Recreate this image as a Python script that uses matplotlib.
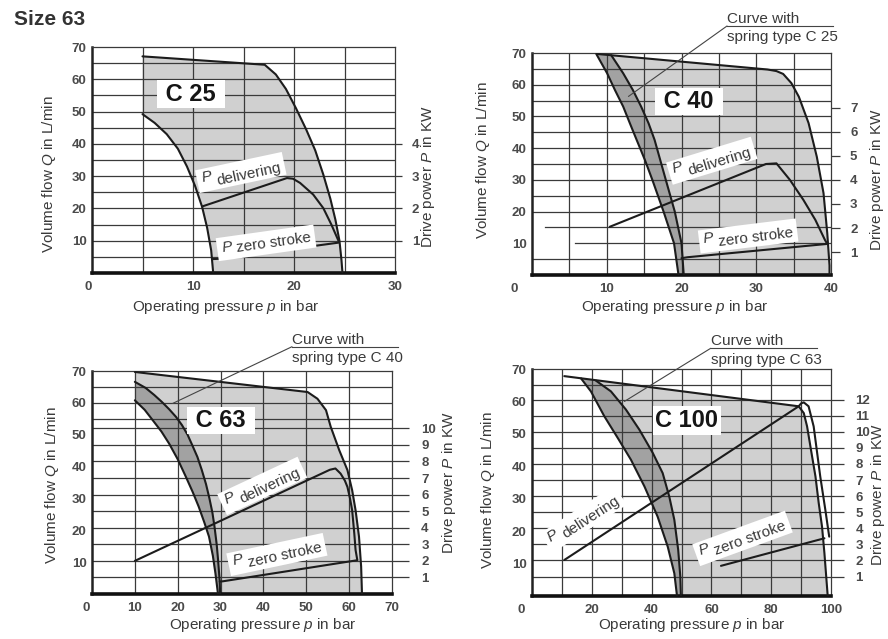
import numpy as np
import matplotlib
matplotlib.use('Agg')
import matplotlib.pyplot as plt
import matplotlib.transforms as mtransforms
from matplotlib.lines import Line2D

plt.rcParams['font.family'] = ['Liberation Sans', 'DejaVu Sans']
plt.rcParams['mathtext.fontset'] = 'custom'
plt.rcParams['mathtext.rm'] = 'Liberation Sans'
plt.rcParams['mathtext.it'] = 'Liberation Sans:italic'

W, H = 888, 639
LIGHT = '#d0d0d0'
DARK = '#a2a2a2'
INK = '#1c1c1c'
GRID = '#3a3a3a'
NUM = '#4a4a4a'
LAB = '#3a3a3a'

# =============================================================================
# Curves: pressure p [bar], flow Q [L/min]
# =============================================================================

# --- C 25 ---
c25_env_p = [5.0, 17.1, 18.2, 19.2, 20.2, 21.2, 22.1, 22.9, 23.6, 24.1, 24.5, 24.7, 24.8]
c25_env_q = [67.1, 64.5, 61.5, 57.0, 51.0, 44.5, 38.0, 30.5, 23.0, 16.5, 10.0, 4.0, 0.0]
c25_inner_p = [5.0, 6.2, 7.4, 8.5, 9.4, 10.2, 10.9, 11.4, 11.8, 12.0]
c25_inner_q = [49.2, 46.5, 43.0, 38.5, 33.0, 27.0, 20.5, 14.0, 7.0, 0.0]
c25_deliv_p = [10.9, 19.3, 19.9, 20.6, 21.9, 22.9, 23.7, 24.4]
c25_deliv_q = [20.6, 29.4, 29.2, 27.9, 24.3, 20.1, 15.0, 10.0]
c25_zero_p = [11.9, 12.6, 24.4]
c25_zero_q = [4.3, 4.4, 9.4]
c25_kw = [1, 2, 3, 4]

# --- C 40 ---
c40_env_p = [8.7, 31.5, 32.7, 33.6, 34.7, 35.7, 37.0, 38.1, 39.0, 39.5, 39.8, 39.8]
c40_env_q = [69.7, 64.8, 64.3, 63.4, 60.5, 56.2, 47.9, 37.3, 25.8, 13.2, 3.0, 0.0]
c40_a_p = [8.6, 10.05, 11.1, 12.2, 13.1, 14.0, 15.1, 16.1, 17.6, 19.0, 19.6]
c40_a_q = [69.7, 63.6, 58.3, 53.1, 47.8, 42.6, 36.3, 30.0, 20.0, 10.0, 0.0]
c40_b_p = [10.6, 12.2, 13.5, 14.6, 15.6, 16.4, 17.9, 19.1, 20.0, 20.3]
c40_b_q = [69.3, 63.6, 58.3, 53.1, 47.8, 42.6, 30.0, 20.0, 10.0, 0.0]
c40_deliv_p = [10.4, 31.3, 32.7, 34.5, 36.3, 37.9, 39.2, 39.5]
c40_deliv_q = [15.2, 35.0, 35.2, 30.0, 23.7, 17.4, 11.0, 9.8]
c40_zero_p = [20.0, 20.8, 39.5]
c40_zero_q = [5.3, 5.6, 9.8]
c40_kw = [1, 2, 3, 4, 5, 6, 7]

# --- C 63 ---
c63_env_p = [10.0, 50.3, 52.6, 54.6, 55.7, 57.7, 59.6, 60.7, 61.5, 62.3, 62.8, 63.0]
c63_env_q = [69.7, 63.4, 61.3, 57.7, 52.5, 45.1, 38.9, 32.6, 26.3, 18.0, 8.6, 0.0]
c63_a_p = [10.0, 12.3, 14.2, 16.2, 18.0, 20.0, 21.9, 23.5, 24.9, 26.2, 27.3, 28.2, 28.8, 29.4]
c63_a_q = [60.8, 57.8, 54.5, 51.0, 47.2, 42.3, 36.8, 32.0, 27.4, 22.5, 18.0, 12.0, 6.5, 0.0]
c63_b_p = [10.0, 12.5, 14.5, 16.3, 18.0, 19.6, 21.0, 22.3, 23.3, 24.6, 25.6, 26.6, 27.4,
           28.1, 28.6, 29.1, 29.4, 29.8, 29.9]
c63_b_q = [66.6, 64.7, 62.5, 60.3, 58.0, 55.6, 53.0, 50.0, 47.0, 43.0, 39.0, 34.5, 30.0,
           25.5, 21.0, 15.5, 11.0, 4.0, 0.0]
c63_deliv_p = [10.0, 55.5, 56.8, 58.0, 59.0, 59.6, 60.2, 60.7, 61.2, 61.5, 61.9]
c63_deliv_q = [10.4, 39.0, 39.4, 37.8, 35.6, 33.6, 30.0, 26.3, 19.0, 13.8, 10.7]
c63_zero_p = [29.8, 30.6, 61.9]
c63_zero_q = [3.9, 4.0, 10.6]
c63_kw = [1, 2, 3, 4, 5, 6, 7, 8, 9, 10]

# --- C 100 ---
c100_env_p = [10.8, 89.2, 90.9, 92.0, 93.3, 94.8, 95.9, 97.0, 97.8, 98.4, 98.9]
c100_env_q = [67.8, 58.5, 56.4, 52.3, 45.1, 36.9, 28.6, 21.4, 13.2, 6.0, 0.0]
c100_a_p = [16.4, 19.7, 24.2, 28.7, 33.1, 37.6, 42.0, 45.4, 47.6, 48.5]
c100_a_q = [67.1, 63.1, 55.4, 48.7, 42.0, 33.8, 24.5, 15.2, 7.0, 0.0]
c100_b_p = [21.4, 26.4, 31.4, 35.9, 40.4, 43.7, 45.9, 47.6, 48.9, 49.6, 49.8]
c100_b_q = [66.4, 63.1, 57.5, 51.3, 44.1, 37.9, 30.7, 23.5, 14.2, 6.0, 0.0]
c100_deliv_p = [10.8, 89.2, 90.0, 90.9, 92.5, 94.2, 96.4, 98.1, 99.4]
c100_deliv_q = [11.1, 58.5, 59.4, 59.7, 58.5, 52.3, 36.9, 26.6, 18.3]
c100_zero_p = [63.2, 97.8]
c100_zero_q = [9.3, 17.8]
c100_kw = [1, 2, 3, 4, 5, 6, 7, 8, 9, 10, 11, 12]

# =============================================================================
# Helpers
# =============================================================================

fig = plt.figure(figsize=(W / 100, H / 100), dpi=100)


def fx(x):
    return x / W


def fy(y):
    return 1 - y / H


def add_panel(l, t, r, b):
    return fig.add_axes([l / W, 1 - b / H, (r - l) / W, (b - t) / H])


def frame(ax, xmax, xstep, xticks, zero_dx, qlines, qstart=None):
    ax.set_xlim(0, xmax)
    ax.set_ylim(0, 70)
    qstart = qstart or {}
    for x in np.arange(xstep, xmax, xstep):
        ax.axvline(x, color=GRID, lw=0.9, zorder=2)
    for q in qlines:
        ax.axhline(q, xmin=qstart.get(q, 0) / xmax, color=GRID, lw=0.9, zorder=2)
    ax.set_xticks(xticks, labels=[str(v) for v in xticks], fontweight='bold')
    ax.set_yticks(range(10, 71, 10), labels=[str(v) for v in range(10, 71, 10)],
                  fontweight='bold')
    ax.tick_params(axis='both', length=0, labelsize=9.5, labelcolor=NUM)
    ax.tick_params(axis='x', pad=6)
    ax.tick_params(axis='y', pad=4)
    ax.annotate('0', xy=(0, 0), xycoords='axes fraction', xytext=(zero_dx, -6),
                textcoords='offset points', ha='center', va='top', fontsize=9.5,
                fontweight='bold', color=NUM)
    ax.spines['left'].set_linewidth(1.8)
    ax.spines['bottom'].set_linewidth(2.6)
    ax.spines['left'].set_color('#222222')
    ax.spines['bottom'].set_color('#111111')
    for s in ('top', 'right'):
        ax.spines[s].set_linewidth(0.9)
        ax.spines[s].set_color(GRID)


def kw_axis(ax, a, b, ticks, length, pad, gridlines):
    sec = ax.secondary_yaxis('right', functions=(lambda q: (q - b) / a, lambda p: a * p + b))
    sec.set_ticks(ticks, labels=[str(t) for t in ticks], fontweight='bold')
    sec.tick_params(axis='y', direction='out', length=length, width=0.9, color=GRID,
                    pad=pad, labelsize=9.5, labelcolor=NUM)
    sec.spines['right'].set_visible(False)
    if gridlines:
        for p in ticks:
            ax.axhline(a * p + b, color=GRID, lw=0.9, zorder=2)


def curve(ax, xs, ys):
    ax.plot(xs, ys, color=INK, lw=1.5, zorder=3, solid_joinstyle='round',
            solid_capstyle='round')


def region(ax, xs_a, ys_a, xs_b, ys_b, color):
    ax.fill(np.r_[xs_a, xs_b[::-1]], np.r_[ys_a, ys_b[::-1]], color=color, lw=0, zorder=1)


def size_label(ax, x, y, text, pad):
    ax.text(x, y, text, ha='center', va='center', fontsize=17, fontweight='bold',
            color='#151515', zorder=5,
            bbox=dict(boxstyle=f'square,pad={pad}', fc='white', ec='none'))


def p_label(ax, x, y, sub, rot, drop, size=11):
    r = np.radians(rot)
    kw = dict(fontsize=size, rotation=rot, rotation_mode='anchor', ha='left', va='baseline')
    shift = mtransforms.offset_copy(ax.transData, fig=fig, x=0.5 * drop * np.sin(r),
                                    y=-0.5 * drop * np.cos(r), units='points')
    ax.text(x, y, 'P ' + sub, color='none', transform=shift, zorder=5,
            bbox=dict(boxstyle='square,pad=0.3', fc='white', ec='none'), **kw)
    ax.text(x, y, 'P', fontstyle='italic', color=LAB, zorder=6, **kw)
    along = 0.95 * size
    off = mtransforms.offset_copy(ax.transData, fig=fig,
                                  x=along * np.cos(r) + drop * np.sin(r),
                                  y=along * np.sin(r) - drop * np.cos(r), units='points')
    ax.text(x, y, sub, color=LAB, transform=off, zorder=6, **kw)


def spring_note(ax, x, y, spring, target):
    fig.text(fx(x), fy(y - 3), 'Curve with', fontsize=11, color=LAB, va='baseline')
    fig.text(fx(x), fy(y + 15.5), 'spring type ' + spring, fontsize=11, color=LAB,
             va='baseline')
    fig.add_artist(Line2D([fx(x), fx(x + 106)], [fy(y), fy(y)], transform=fig.transFigure,
                          lw=0.8, color='#444444'))
    ax.annotate('', xy=target, xycoords='data', xytext=(fx(x), fy(y)),
                textcoords='figure fraction', annotation_clip=False,
                arrowprops=dict(arrowstyle='-', lw=0.8, color='#444444',
                                shrinkA=0, shrinkB=0))


def axis_texts(xl, yl, kl):
    fig.text(fx(xl[0]), fy(xl[1]), r'Operating pressure $p$ in bar', fontsize=11,
             color=LAB, ha='center', va='center')
    fig.text(fx(yl[0]), fy(yl[1]), r'Volume flow $Q$ in L/min', fontsize=11,
             color=LAB, ha='center', va='center', rotation=90)
    fig.text(fx(kl[0]), fy(kl[1]), r'Drive power $P$ in KW', fontsize=11,
             color=LAB, ha='center', va='center', rotation=90)


fig.text(fx(14), fy(25), 'Size 63', fontsize=15, fontweight='bold', color='#333333',
         va='baseline')

# =============================================================================
# Panel C 25
# =============================================================================
ax1 = add_panel(92, 47, 395, 273)
frame(ax1, 30, 5, [10, 20, 30], -3, range(5, 70, 5))
kw_axis(ax1, 10.0, 0.0, c25_kw, 5, 7, False)
region(ax1, c25_env_p, c25_env_q, c25_inner_p, c25_inner_q, LIGHT)
curve(ax1, c25_env_p, c25_env_q)
curve(ax1, c25_inner_p, c25_inner_q)
curve(ax1, c25_deliv_p, c25_deliv_q)
curve(ax1, c25_zero_p, c25_zero_q)
size_label(ax1, 9.8, 55.4, ' C 25 ', 0.1)
p_label(ax1, 10.9, 28.3, 'delivering', 12, 4.5)
p_label(ax1, 12.9, 6.4, 'zero stroke', 8, 1.0)
axis_texts((226, 307), (49, 174), (428, 177))

# =============================================================================
# Panel C 40
# =============================================================================
ax2 = add_panel(532, 53, 831, 275)
frame(ax2, 40, 5, [10, 20, 30, 40], -13, range(5, 70, 5), {15: 1.7, 10: 5.7})
kw_axis(ax2, 7.6, -0.4, c40_kw, 6.7, 7, False)
region(ax2, c40_env_p, c40_env_q, c40_b_p, c40_b_q, LIGHT)
region(ax2, c40_a_p, c40_a_q, c40_b_p, c40_b_q, DARK)
for xs, ys in [(c40_env_p, c40_env_q), (c40_a_p, c40_a_q), (c40_b_p, c40_b_q),
               (c40_deliv_p, c40_deliv_q), (c40_zero_p, c40_zero_q)]:
    curve(ax2, xs, ys)
size_label(ax2, 21.0, 54.7, ' C 40 ', 0.1)
p_label(ax2, 19.0, 32.1, 'delivering', 17, 4.5)
p_label(ax2, 23.0, 10.2, 'zero stroke', 7, 4.0)
spring_note(ax2, 727, 26, 'C 25', (12.9, 56.3))
axis_texts((675, 307), (483, 160), (877, 180))

# =============================================================================
# Panel C 63
# =============================================================================
ax3 = add_panel(92, 371, 392, 594)
frame(ax3, 70, 10, [10, 20, 30, 40, 50, 60, 70], -4.5, [55, 60, 65])
kw_axis(ax3, 5.2, 0.0, c63_kw, 12, 9, True)
region(ax3, c63_env_p, c63_env_q, c63_b_p, c63_b_q, LIGHT)
region(ax3, c63_a_p, c63_a_q, c63_b_p, c63_b_q, DARK)
for xs, ys in [(c63_env_p, c63_env_q), (c63_a_p, c63_a_q), (c63_b_p, c63_b_q),
               (c63_deliv_p, c63_deliv_q), (c63_zero_p, c63_zero_q)]:
    curve(ax3, xs, ys)
size_label(ax3, 30.0, 54.5, ' C 63 ', 0.1)
p_label(ax3, 31.4, 28.4, 'delivering', 25, 4.5)
p_label(ax3, 33.0, 9.1, 'zero stroke', 12, 4.0)
spring_note(ax3, 292, 346.7, 'C 40', (18.8, 59.8))
axis_texts((263, 625), (52, 485), (449, 483))

# =============================================================================
# Panel C 100
# =============================================================================
ax4 = add_panel(532, 369, 831, 596)
frame(ax4, 100, 10, [20, 40, 60, 80, 100], -8, [65])
kw_axis(ax4, 4.96, 1.04, c100_kw, 9, 8.5, True)
region(ax4, c100_env_p, c100_env_q, c100_b_p, c100_b_q, LIGHT)
region(ax4, c100_a_p, c100_a_q, c100_b_p, c100_b_q, DARK)
for xs, ys in [(c100_env_p, c100_env_q), (c100_a_p, c100_a_q), (c100_b_p, c100_b_q),
               (c100_deliv_p, c100_deliv_q), (c100_zero_p, c100_zero_q)]:
    curve(ax4, xs, ys)
size_label(ax4, 51.8, 54.1, 'C 100', 0.12)
p_label(ax4, 6.2, 16.8, 'delivering', 33, 4.5)
p_label(ax4, 56.5, 12.7, 'zero stroke', 20, 4.0)
spring_note(ax4, 710.7, 348.3, 'C 63', (30.9, 60.0))
axis_texts((692, 625), (488, 490), (878, 495))

fig.savefig('out.png', dpi=100, facecolor='white')
plt.close(fig)
